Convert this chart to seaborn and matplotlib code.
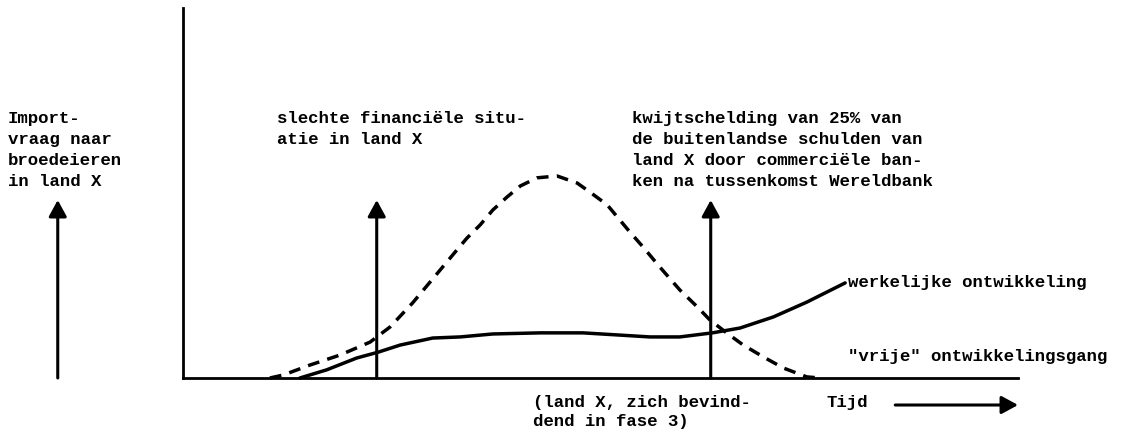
import matplotlib
matplotlib.use('Agg')
import matplotlib.pyplot as plt
import seaborn as sns

sns.set_style('white')
plt.rcParams['font.family'] = ['Liberation Mono', 'DejaVu Sans Mono']

# "vrije" ontwikkelingsgang (dashed curve)
vrij_tijd = [10.4, 12.0, 15.2, 18.8, 22.4, 24.8, 27.5, 30.8, 32.8, 34.0, 35.6, 37.1,
             38.8, 40.4, 42.4, 44.8, 47.2, 48.7, 50.8, 53.5, 55.1, 57.1, 59.5, 61.6,
             63.1, 65.1, 67.1, 69.5, 71.9, 74.7, 76.3]
vrij_vraag = [0.0, 0.8, 3.5, 6.2, 9.7, 13.8, 20.3, 29.2, 34.6, 37.8, 41.4, 45.4,
              48.9, 51.9, 54.1, 54.6, 52.7, 50.3, 46.8, 39.5, 35.4, 30.0, 23.8, 19.2,
              15.7, 12.2, 8.9, 5.7, 2.7, 0.3, 0.0]

# werkelijke ontwikkeling (solid curve)
werk_tijd = [14.0, 17.2, 20.8, 23.4, 26.0, 29.9, 33.2, 37.1, 42.8, 47.9, 52.3, 55.9,
             59.5, 63.4, 66.7, 70.7, 74.7, 79.3]
werk_vraag = [0.0, 2.2, 5.4, 7.0, 8.9, 10.8, 11.1, 11.9, 12.2, 12.2, 11.6, 11.1,
              11.1, 12.2, 13.5, 16.5, 20.5, 25.7]

# events (vertical arrows)
event_tijd = [-15.0, 23.2, 63.2]
event_hoogte = 48.1

label_vraag = ['Import-', 'vraag naar', 'broedeieren', 'in land X']
label_slecht = ['slechte financiële situ-', 'atie in land X']
label_kwijt = ['kwijtschelding van 25% van', 'de buitenlandse schulden van',
               'land X door commerciële ban-', 'ken na tussenkomst Wereldbank']
label_fase = ['(land X, zich bevind-', 'dend in fase 3)']

fig = plt.figure(figsize=(11.29, 4.34), dpi=100)
ax = fig.add_axes([183 / 1129, 56 / 434, 835 / 1129, 370 / 434])

sns.lineplot(x=vrij_tijd, y=vrij_vraag, ax=ax, color='black', linewidth=2.5,
             linestyle=(0, (3.4, 2.4)), clip_on=False)
sns.lineplot(x=werk_tijd, y=werk_vraag, ax=ax, color='black', linewidth=2.5,
             clip_on=False)

ax.set_xlim(0, 100)
ax.set_ylim(0, 100)
ax.set_xticks([])
ax.set_yticks([])
for s in ['top', 'right']:
    ax.spines[s].set_visible(False)
for s in ['left', 'bottom']:
    ax.spines[s].set_color('black')
    ax.spines[s].set_linewidth(2.0)

arrow = dict(arrowstyle='-|>,head_length=0.55,head_width=0.3', color='black',
             lw=2.2, mutation_scale=18, shrinkA=0, shrinkB=0)
for t in event_tijd:
    ax.annotate('', xy=(t, event_hoogte), xytext=(t, 0), arrowprops=arrow,
                annotation_clip=False)
# Tijd arrow
ax.annotate('', xy=(100, -7.3), xytext=(85.3, -7.3), arrowprops=arrow,
            annotation_clip=False)

txt = dict(fontsize=12.5, fontweight='bold', color='black', va='baseline',
           ha='left', clip_on=False)


def block(lines, x, y0, step=5.68):
    for i, line in enumerate(lines):
        ax.text(x, y0 - i * step, line, **txt)


block(label_vraag, -20.96, 68.9)
block(label_slecht, 11.26, 68.9)
block(label_kwijt, 53.8, 68.9)
block(label_fase, 41.9, -7.8, step=5.2)
ax.text(79.6, 24.6, 'werkelijke ontwikkeling', **txt)
ax.text(79.6, 4.6, '"vrije" ontwikkelingsgang', **txt)
ax.text(77.1, -7.8, 'Tijd', **txt)

fig.savefig('out.png', dpi=100)
